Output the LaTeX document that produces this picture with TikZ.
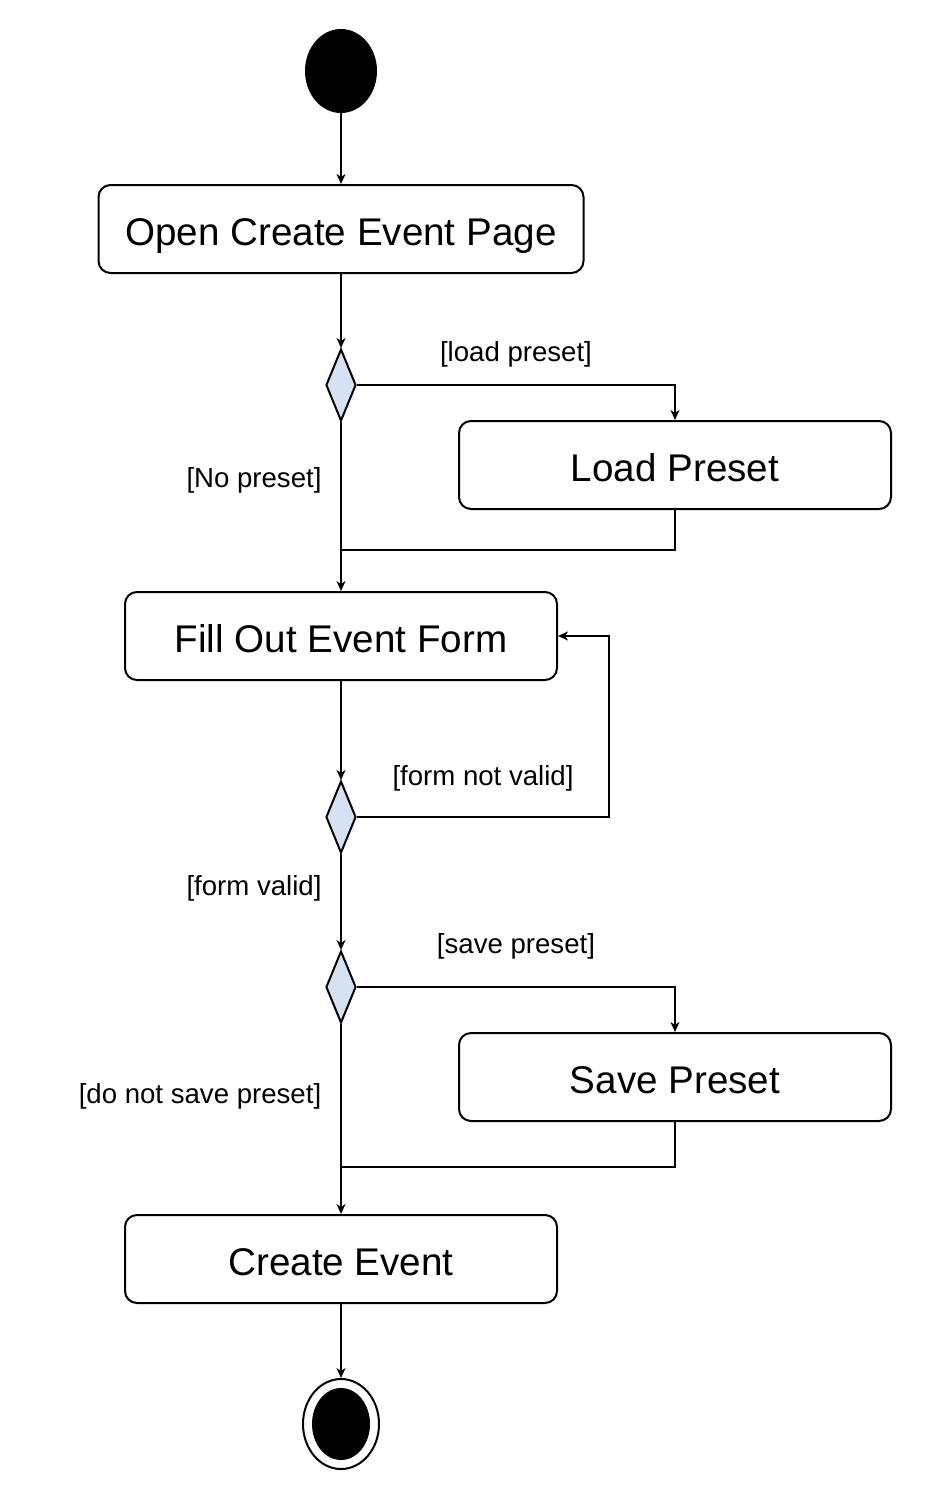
\documentclass[tikz,border=0pt]{standalone}
\usepackage{fontspec}
\setmainfont{Liberation Sans}
\usetikzlibrary{arrows.meta,shapes.geometric}
\definecolor{decfill}{RGB}{212,226,241}
\begin{document}
\begin{tikzpicture}[x=0.5pt,y=-0.5pt,
        line width=1pt,
        action/.style={draw, rounded corners=6pt, minimum width=#1, minimum height=44pt,
            inner sep=0pt, text height=16pt, text depth=0pt, font=\fontsize{19.3}{22}\selectfont},
        action/.default=216pt,
        decision/.style={diamond, draw, fill=decfill, minimum width=15pt, minimum height=36pt, inner sep=0pt},
        guard/.style={font=\fontsize{13.8}{16}\selectfont},
        flow/.style={-{Stealth[length=5pt,width=4.5pt,inset=1.5pt]}}]
        \useasboundingbox (0,0) rectangle (945,1500);

        % Inicio
        \node[ellipse, fill=black, draw, minimum width=35pt, minimum height=41pt, inner sep=0pt] (start) at (341,71) {};
        \node[action=242.5pt] (open) at (341,229) {Open Create Event Page};

        % Preset
        \node[decision] (d1) at (341,385) {};
        \node[action] (lp) at (675,465) {Load Preset};
        \node[action] (fill) at (341,636) {Fill Out Event Form};
        \coordinate (j1) at (341,550);

        % Validacion
        \node[decision] (d2) at (341,817) {};
        \coordinate (back) at (609,636);

        % Guardar
        \node[decision] (d3) at (341,987) {};
        \node[action] (sp) at (675,1077) {Save Preset};
        \coordinate (j2) at (341,1167);
        \node[action] (create) at (341,1259) {Create Event};

        % Final
        \node[ellipse, draw, minimum width=38pt, minimum height=45pt, inner sep=0pt] (endo) at (341,1424) {};
        \node[ellipse, fill=black, minimum width=29pt, minimum height=36pt, inner sep=0pt] (endi) at (341,1424) {};

        % Flechas
        \draw[flow] (start) -- (open);
        \draw[flow] (open) -- (d1);
        \draw[flow] (d1.east) -| (lp.north);
        \draw (lp.south) |- (j1);
        \draw[flow] (d1.south) -- (fill.north);
        \draw[flow] (fill) -- (d2);
        \draw[flow] (d2.east) -| (back) -- (fill.east);
        \draw[flow] (d2.south) -- (d3.north);
        \draw[flow] (d3.east) -| (sp.north);
        \draw (sp.south) |- (j2);
        \draw[flow] (d3.south) -- (create.north);
        \draw[flow] (create) -- (endo.north);

        % Guardas
        \node[guard] at (516,354) {[load preset]};
        \node[guard] at (254,480) {[No preset]};
        \node[guard] at (483,778) {[form not valid]};
        \node[guard] at (254,888) {[form valid]};
        \node[guard] at (516,946) {[save preset]};
        \node[guard] at (200,1096) {[do not save preset]};
    \end{tikzpicture}
\end{document}
